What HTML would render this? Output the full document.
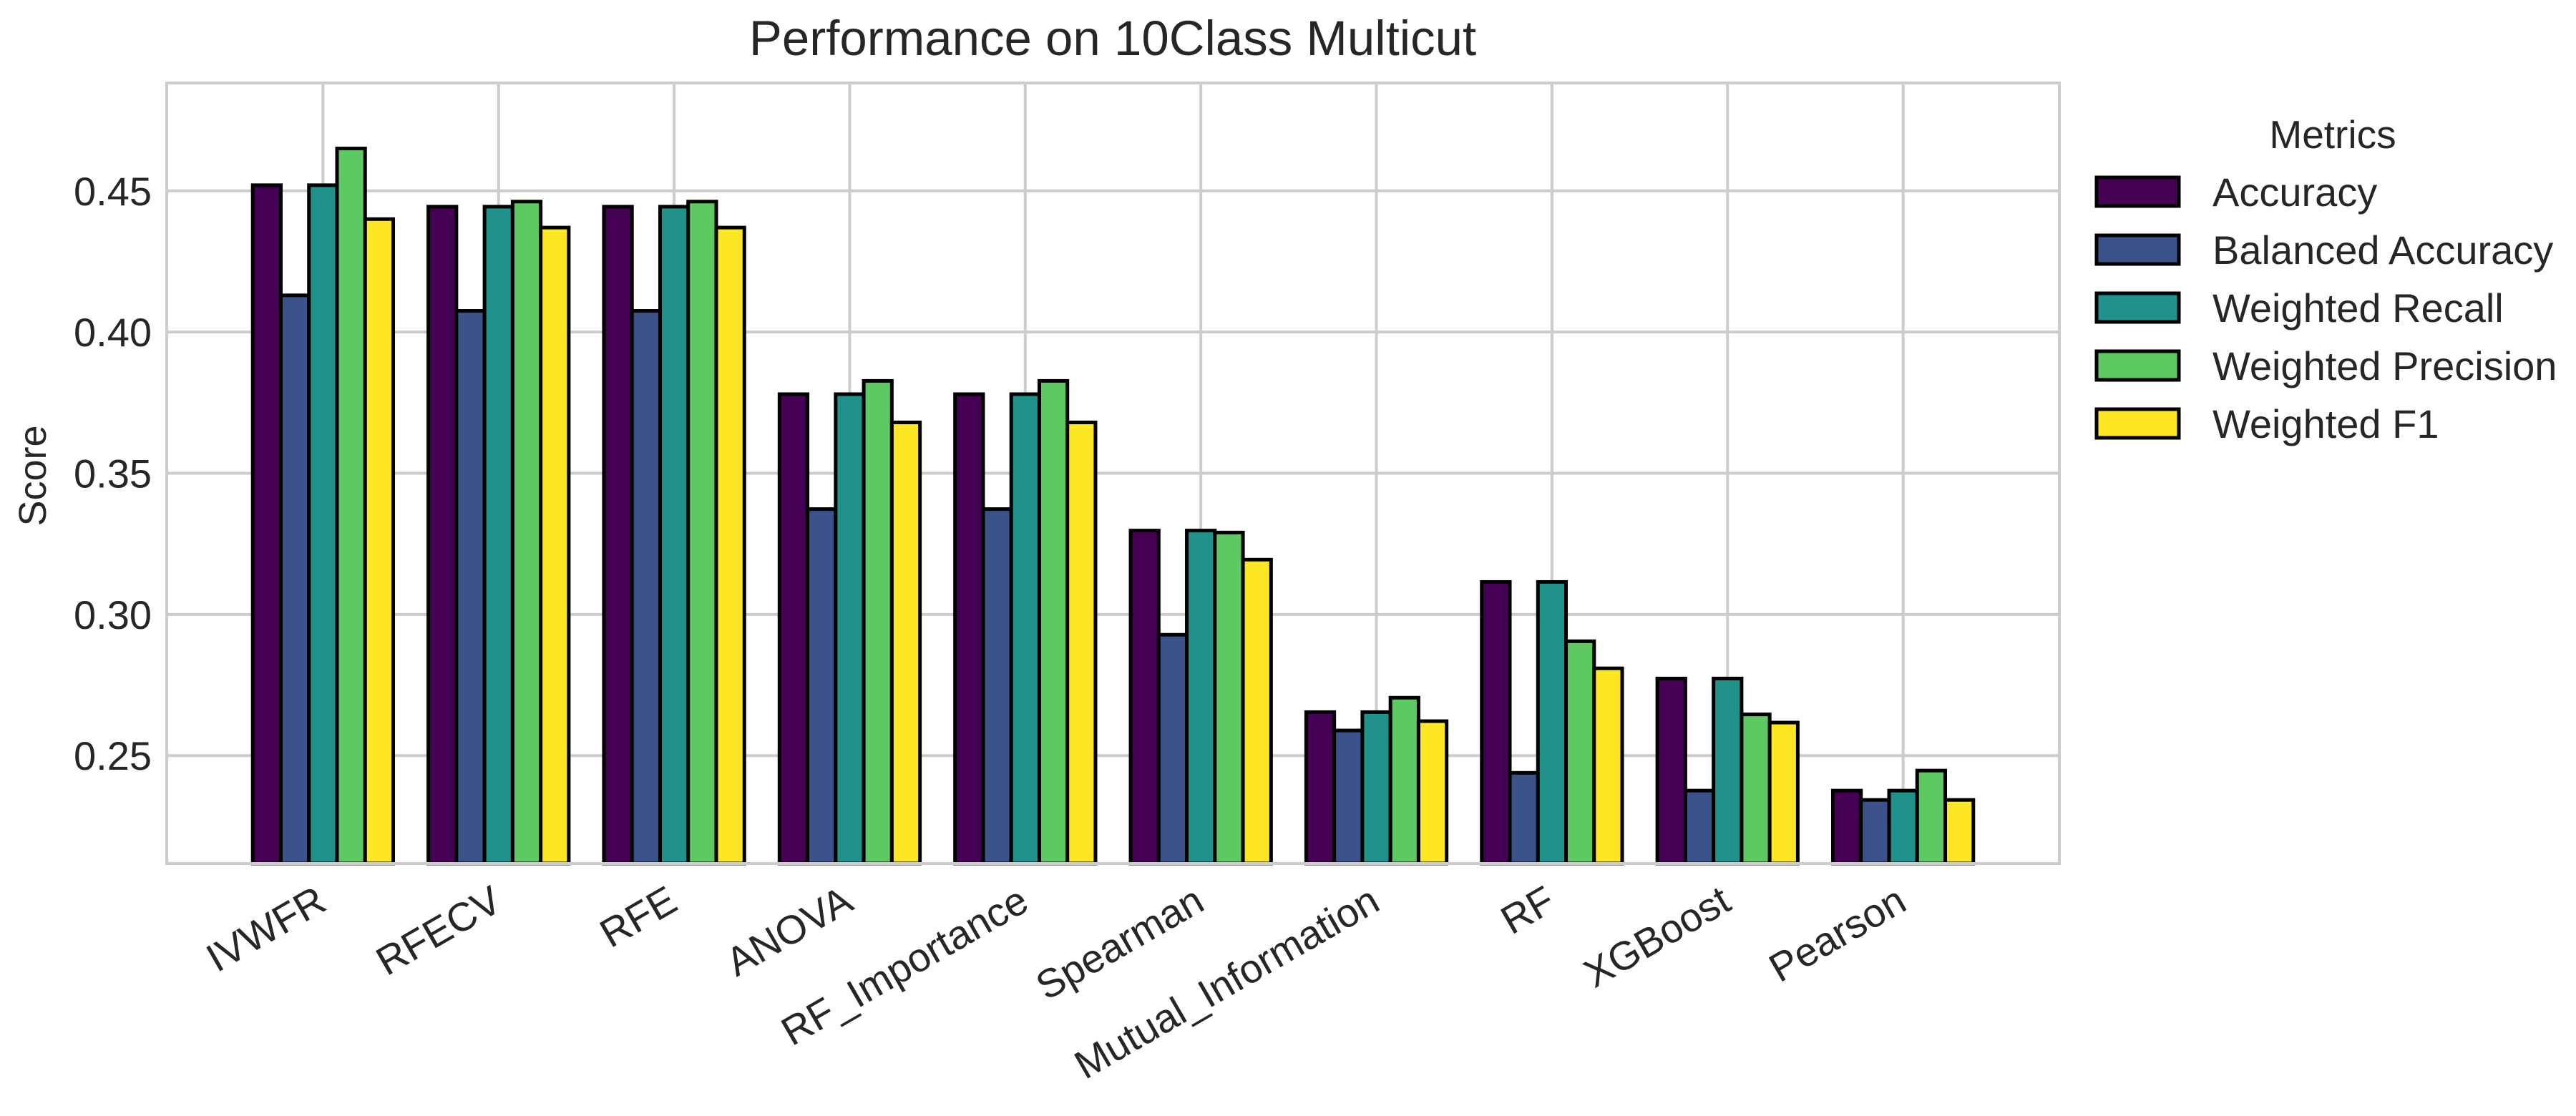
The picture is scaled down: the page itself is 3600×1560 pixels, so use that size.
<!DOCTYPE html>
<html><head><meta charset="utf-8"><style>
html,body{margin:0;padding:0;background:#fff;}
svg{display:block;font-family:"Liberation Sans",sans-serif;}
</style></head><body>
<svg id="chart" width="3600" height="1560" viewBox="0 0 3600 1560" xmlns="http://www.w3.org/2000/svg">
<rect x="0" y="0" width="3600" height="1560" fill="#fff"/>
<g id="grid"></g>
<g id="bars"></g>
<rect x="233" y="116" width="2645" height="1091" fill="none" stroke="#cccccc" stroke-width="4"/>
<g id="yticks"></g>
<g id="xticks"></g>
<text x="1555" y="77" font-size="69" fill="#262626" text-anchor="middle">Performance on 10Class Multicut</text>
<text x="0" y="0" font-size="54" fill="#262626" text-anchor="middle" transform="translate(64,665) rotate(-90)">Score</text>
<g id="legend">
<text x="3260" y="207" font-size="55" fill="#262626" text-anchor="middle">Metrics</text>
</g>
</svg>
<script>
const categories = ["IVWFR","RFECV","RFE","ANOVA","RF_Importance","Spearman","Mutual_Information","RF","XGBoost","Pearson"];
const metrics = ["Accuracy","Balanced Accuracy","Weighted Recall","Weighted Precision","Weighted F1"];
const accuracy = [0.452,0.4444,0.4444,0.378,0.378,0.3297,0.2654,0.3115,0.2773,0.2376];
const balancedAccuracy = [0.413,0.4075,0.4075,0.3373,0.3373,0.2928,0.2589,0.2439,0.2376,0.2343];
const weightedRecall = [0.452,0.4444,0.4444,0.378,0.378,0.3297,0.2654,0.3115,0.2773,0.2376];
const weightedPrecision = [0.465,0.4462,0.4462,0.3827,0.3827,0.329,0.2705,0.2905,0.2646,0.2447];
const weightedF1 = [0.440,0.437,0.437,0.368,0.368,0.3194,0.2622,0.2809,0.2617,0.2343];
const yTicks = [0.25,0.30,0.35,0.40,0.45];
const yTickLabels = ["0.25","0.30","0.35","0.40","0.45"];
const series = [accuracy,balancedAccuracy,weightedRecall,weightedPrecision,weightedF1];
const colors = ["#440154","#3b528b","#21918c","#5ec962","#fde725"];

const NS = "http://www.w3.org/2000/svg";
const plotL = 233, plotR = 2878, plotT = 116, plotB = 1207;
const xMin = -0.89, xMax = 9.89;
const yMin = 0.2118, yMax = 0.4882;
function xs(v){ return plotL + (v - xMin) / (xMax - xMin) * (plotR - plotL); }
function ys(v){ return plotB - (v - yMin) / (yMax - yMin) * (plotB - plotT); }
function mk(tag, attrs, parent){
  const el = document.createElementNS(NS, tag);
  for (const k in attrs) el.setAttribute(k, attrs[k]);
  parent.appendChild(el);
  return el;
}
const grid = document.getElementById('grid');
const bars = document.getElementById('bars');
const yt = document.getElementById('yticks');
const xt = document.getElementById('xticks');
const legend = document.getElementById('legend');

yTicks.forEach((t, i) => {
  const y = ys(t);
  const gl = mk('line', {x1: plotL, x2: plotR, y1: y, y2: y, stroke: '#cccccc', 'stroke-width': 4}, grid);
  
  
  const tx = mk('text', {x: 212, y: y + 20, 'font-size': 56, fill: '#262626', 'text-anchor': 'end'}, yt);
  tx.textContent = yTickLabels[i];
  
  
});

const barW = 0.16;
categories.forEach((c, i) => {
  const x = xs(i);
  const gl = mk('line', {x1: x, x2: x, y1: plotT, y2: plotB, stroke: '#cccccc', 'stroke-width': 4}, grid);
  
  
  const px = x + 8, py = 1270;
  const tx = mk('text', {x: px, y: py, 'font-size': 56, fill: '#262626', 'text-anchor': 'end', transform: 'rotate(-30 ' + px + ' ' + py + ')'}, xt);
  tx.textContent = c;
  
  
  series.forEach((s, j) => {
    const x0 = xs(i - 0.4 + j * barW), x1 = xs(i - 0.4 + (j + 1) * barW);
    const y0 = ys(s[i]);
    const r = mk('rect', {x: x0, y: y0, width: x1 - x0, height: plotB - y0, fill: colors[j], stroke: '#000', 'stroke-width': 5}, bars);
    
    
  });
});

const legendRows = [268, 349, 430, 511, 592];
metrics.forEach((m, j) => {
  const cy = legendRows[j];
  const r = mk('rect', {x: 2930, y: cy - 20, width: 115, height: 40, fill: colors[j], stroke: '#000', 'stroke-width': 5}, legend);
  
  
  const t = mk('text', {x: 3092, y: cy + 20, 'font-size': 56, fill: '#262626'}, legend);
  t.textContent = m;
  
  
});
</script>
</body></html>
